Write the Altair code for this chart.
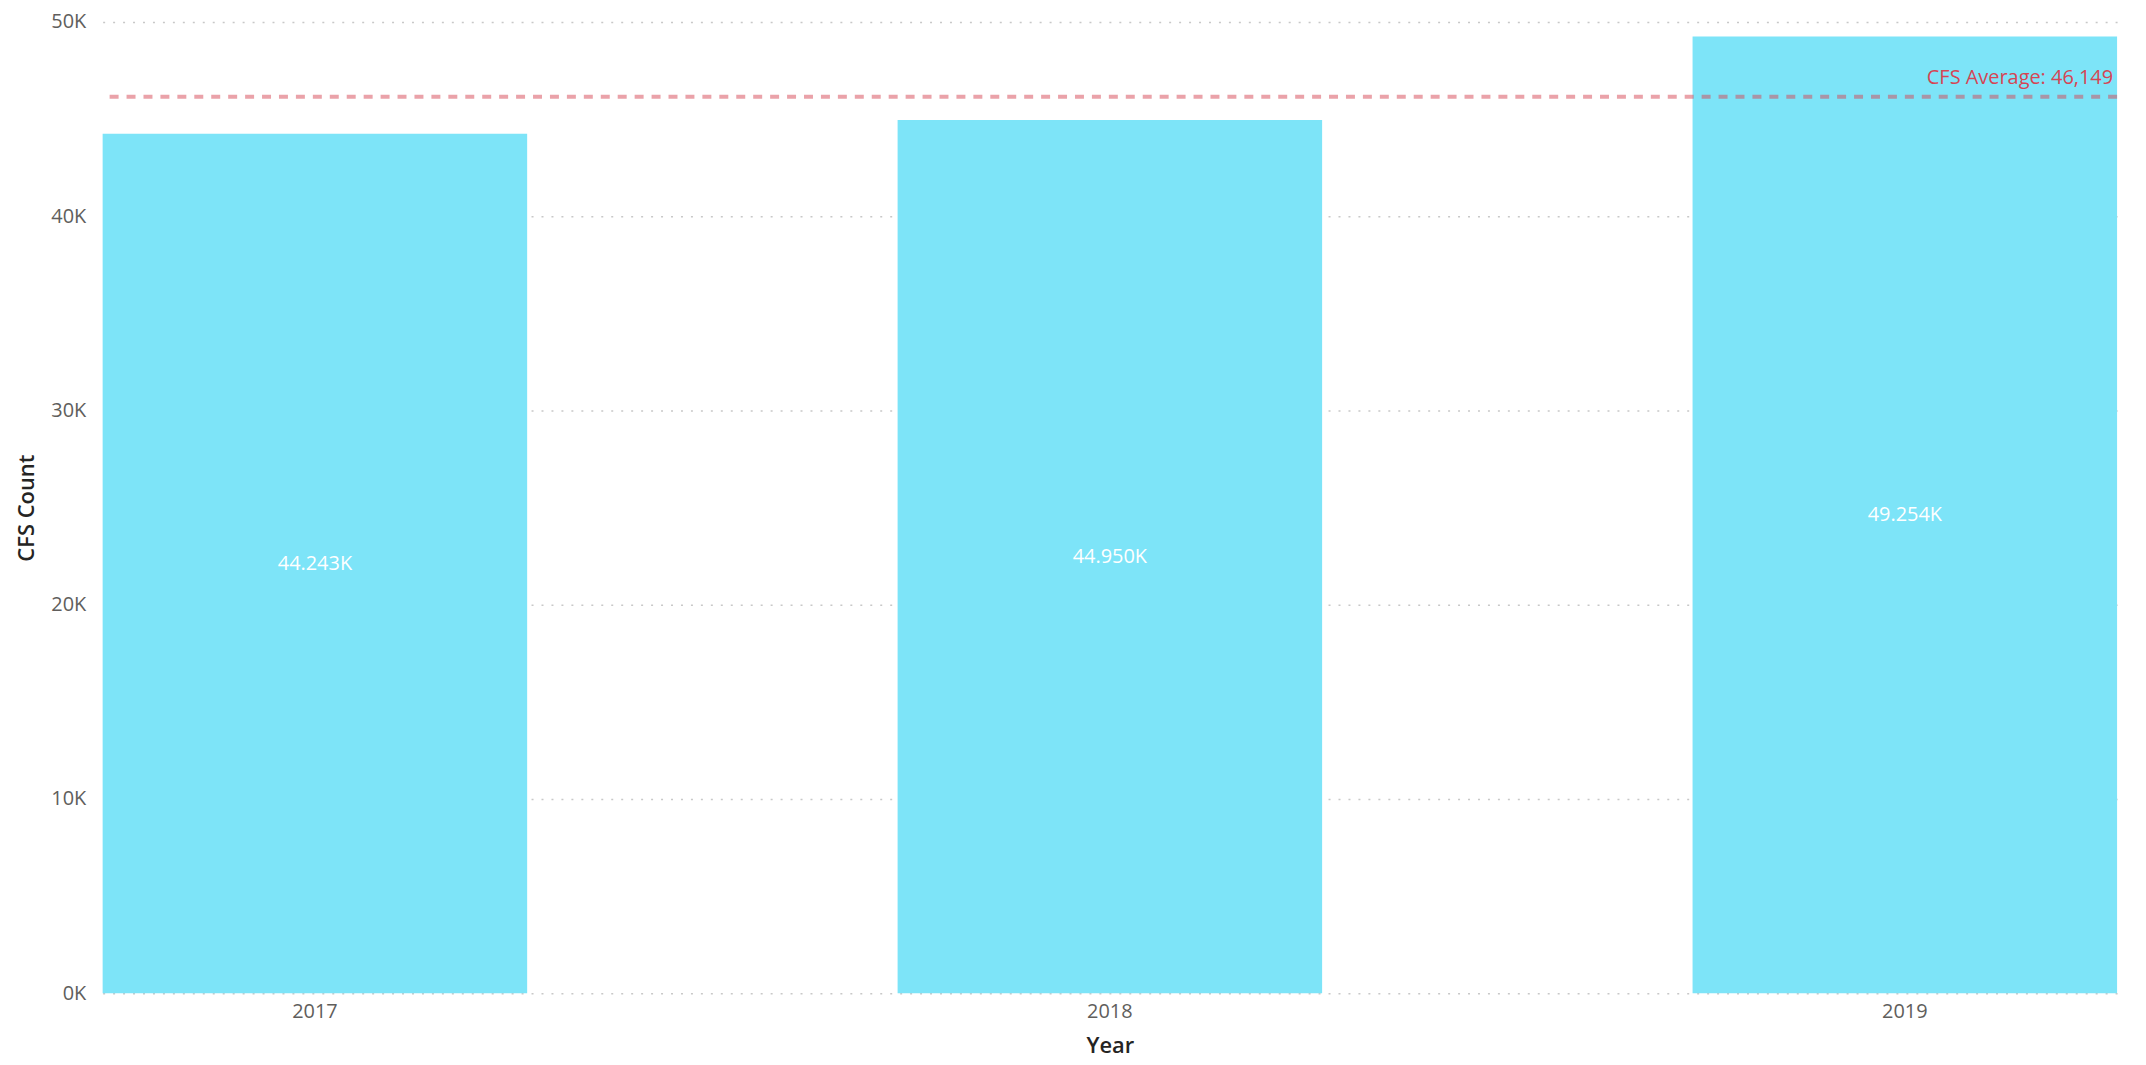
import altair as alt
import pandas as pd

years = ["2017", "2018", "2019"]
counts = [44243, 44950, 49254]
avg_label_prefix = "CFS Average: "

avg_value = round(sum(counts) / len(counts))

df = pd.DataFrame({"Year": years, "CFS": counts})
avg_df = pd.DataFrame({"avg": [avg_value], "label": [f"{avg_label_prefix}{avg_value:,}"]})

FONT = "Open Sans"
W, H = 2022, 975

x_enc = alt.X(
    "Year:N",
    title="Year",
    sort=years,
    scale=alt.Scale(paddingInner=0.466, paddingOuter=0),
    axis=alt.Axis(
        labelAngle=0, labelFontSize=20, labelColor="#605E5C", labelFont=FONT,
        labelPadding=8, ticks=False, domain=False, grid=False,
        titleFontSize=22, titleFont=FONT, titleColor="#252423", titleFontWeight=600,
        titleY=52, titleBaseline="middle",
    ),
)

y_enc = alt.Y(
    "CFS:Q",
    title="CFS Count",
    scale=alt.Scale(domain=[0, 50000], nice=False),
    axis=alt.Axis(
        values=[0, 10000, 20000, 30000, 40000, 50000],
        labelExpr="(datum.value/1000) + 'K'",
        labelFontSize=20, labelColor="#605E5C", labelFont=FONT, labelPadding=17,
        ticks=False, domain=False,
        grid=True, gridDash=[2, 8], gridColor="#C8C8C8", gridWidth=1.5,
        titleFontSize=22, titleFont=FONT, titleColor="#252423", titleFontWeight=600,
        titleX=-76, titleY=H / 2, titleAngle=-90, titleAlign="center", titleBaseline="middle",
    ),
)

bars = alt.Chart(df).mark_bar(color="#7DE4F8").encode(x=x_enc, y=y_enc)

labels = alt.Chart(df).transform_calculate(
    mid="datum.CFS / 2",
    txt="format(datum.CFS / 1000, '.3f') + 'K'",
).mark_text(color="white", fontSize=20, font=FONT, baseline="middle").encode(
    x=alt.X("Year:N", sort=years),
    y=alt.Y("mid:Q"),
    text="txt:N",
)

avg_line = alt.Chart(avg_df).mark_rule(
    color="#D64554", opacity=0.5, strokeWidth=4, strokeDash=[9, 8]
).encode(y=alt.Y("avg:Q"))

avg_text = alt.Chart(avg_df).mark_text(
    color="#D64554", fontSize=20, font=FONT, align="right", baseline="alphabetic", dy=-13
).encode(
    x=alt.value(W - 4),
    y=alt.Y("avg:Q"),
    text="label:N",
)

chart = alt.layer(bars, labels, avg_line, avg_text).properties(
    width=W, height=H,
    background="white",
    autosize=alt.AutoSizeParams(type="none"),
    padding={"left": 95, "top": 12, "right": 21, "bottom": 72},
).configure_view(strokeWidth=0, stroke="transparent").configure_axis(
    domain=False
)

chart.save("out.html", embed_options={"renderer": "svg", "actions": False})
